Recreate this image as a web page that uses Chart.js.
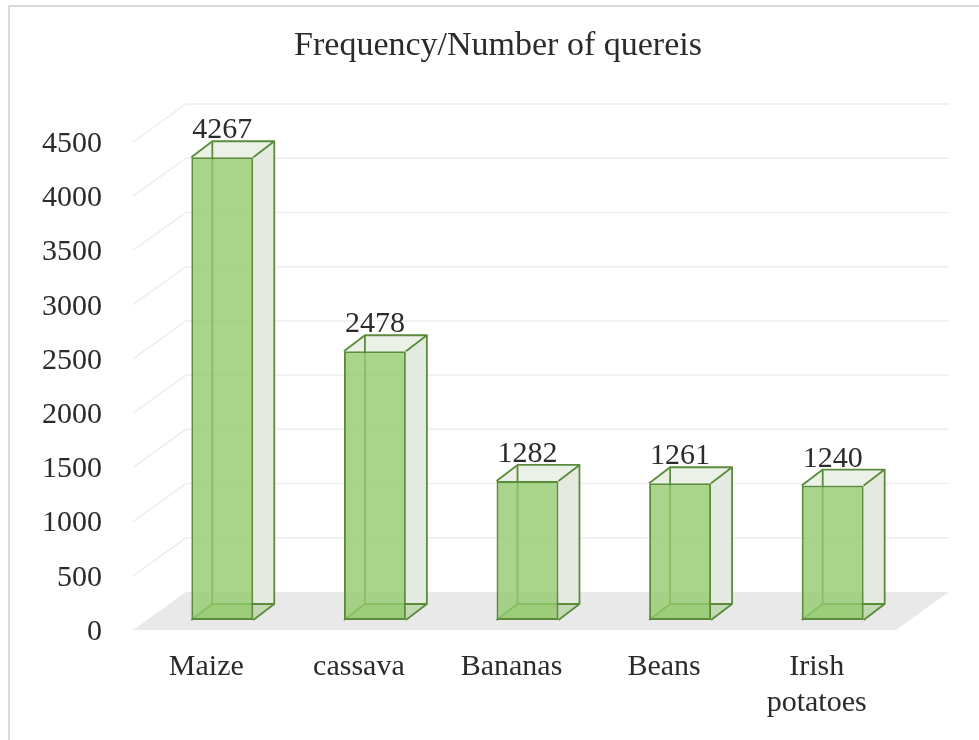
<!DOCTYPE html>
<html>
<head>
<meta charset="utf-8">
<script src="https://cdn.jsdelivr.net/npm/chart.js@4.4.0/dist/chart.umd.min.js"></script>
<style>
  html, body { margin: 0; padding: 0; background: #fff; }
  #frame { position: absolute; left: 8px; top: 5px; width: 1000px; height: 800px; border: 2px solid #dadada; }
  #wrap { position: absolute; left: 0; top: 0; width: 979px; height: 740px; }
</style>
</head>
<body>
<div id="frame"></div>
<div id="wrap"><canvas id="myChart" width="979" height="740"></canvas></div>
<script>
// data
const chartTitle = "Frequency/Number of quereis";
const categories = ["Maize", "cassava", "Bananas", "Beans", ["Irish", "potatoes"]];
const queries = [4267, 2478, 1282, 1261, 1240];
const yMin = 0;
const yMax = 4500;
const yStep = 500;

// 3d look
const DEPTH = { dx: 21, dy: -16 };
const FLOOR_FRONT = { dx: -13, dy: 10 };
const FLOOR_BACK = { dx: 40, dy: -28 };
const EDGE = "#5b8c3c";
const FONT = "'Liberation Serif', 'Times New Roman', serif";

const poly = (ctx, pts) => {
  ctx.beginPath();
  ctx.moveTo(pts[0][0], pts[0][1]);
  pts.slice(1).forEach(p => ctx.lineTo(p[0], p[1]));
  ctx.closePath();
};
const path = (ctx, pts) => {
  ctx.beginPath();
  ctx.moveTo(pts[0][0], pts[0][1]);
  pts.slice(1).forEach(p => ctx.lineTo(p[0], p[1]));
  ctx.stroke();
};

const box3d = {
  id: "box3d",
  beforeDatasetsDraw(chart) {
    const { ctx, chartArea: a, scales: { y } } = chart;
    const y0 = y.getPixelForValue(0);
    ctx.save();
    // floor
    ctx.fillStyle = "#e9e9e9";
    poly(ctx, [
      [a.left + FLOOR_FRONT.dx, y0 + FLOOR_FRONT.dy],
      [a.right + FLOOR_FRONT.dx, y0 + FLOOR_FRONT.dy],
      [a.right + FLOOR_BACK.dx, y0 + FLOOR_BACK.dy],
      [a.left + FLOOR_BACK.dx, y0 + FLOOR_BACK.dy]
    ]);
    ctx.fill();
    // side wall + back wall grid
    ctx.strokeStyle = "#ededed";
    ctx.lineWidth = 1.5;
    y.ticks.forEach(t => {
      if (t.value === 0) return;
      const py = y.getPixelForValue(t.value);
      path(ctx, [
        [a.left + FLOOR_FRONT.dx, py + FLOOR_FRONT.dy],
        [a.left + FLOOR_BACK.dx, py + FLOOR_BACK.dy],
        [a.right + FLOOR_BACK.dx, py + FLOOR_BACK.dy]
      ]);
    });
    // faces behind the front one
    const { dx, dy } = DEPTH;
    chart.getDatasetMeta(0).data.forEach(bar => {
      const l = bar.x - bar.width / 2, r = bar.x + bar.width / 2, t = bar.y, b = bar.base;
      ctx.fillStyle = "#e4eae0";
      poly(ctx, [[r, t], [r + dx, t + dy], [r + dx, b + dy], [r, b]]);
      ctx.fill();
      ctx.fillStyle = "#ecf1e8";
      poly(ctx, [[l, t], [l + dx, t + dy], [r + dx, t + dy], [r, t]]);
      ctx.fill();
      ctx.fillStyle = "rgba(120,180,80,0.3)";
      poly(ctx, [[l, b], [l + dx, b + dy], [r + dx, b + dy], [r, b]]);
      ctx.fill();
      ctx.strokeStyle = EDGE;
      ctx.lineWidth = 1.8;
      path(ctx, [[l, b], [l + dx, b + dy], [r + dx, b + dy]]);
      path(ctx, [[l + dx, b + dy], [l + dx, t + dy]]);
    });
    ctx.restore();
  },
  afterDatasetsDraw(chart) {
    const { ctx } = chart;
    const { dx, dy } = DEPTH;
    ctx.save();
    ctx.strokeStyle = EDGE;
    ctx.lineWidth = 1.8;
    ctx.lineJoin = "round";
    chart.getDatasetMeta(0).data.forEach((bar, i) => {
      const l = bar.x - bar.width / 2, r = bar.x + bar.width / 2, t = bar.y, b = bar.base;
      path(ctx, [[l, t], [l + dx, t + dy], [r + dx, t + dy], [r, t]]);
      path(ctx, [[r + dx, t + dy], [r + dx, b + dy], [r, b]]);
      // value label
      ctx.fillStyle = "#2b2b2b";
      ctx.font = "30px " + FONT;
      ctx.textAlign = "center";
      ctx.textBaseline = "alphabetic";
      ctx.fillText(String(queries[i]), bar.x, t - 19);
    });
    ctx.restore();
  },
  afterDraw(chart) {
    // title, centred on the framed box
    const { ctx } = chart;
    ctx.save();
    ctx.fillStyle = "#2b2b2b";
    ctx.font = "34px " + FONT;
    ctx.textAlign = "center";
    ctx.textBaseline = "alphabetic";
    ctx.fillText(chartTitle, 498, 55);
    ctx.restore();
  }
};

const stadistic = document.getElementById("myChart");
new Chart(stadistic, {
  type: "bar",
  data: {
    labels: categories,
    datasets: [{
      label: chartTitle,
      data: queries,
      backgroundColor: "rgba(146,203,108,0.8)",
      borderColor: EDGE,
      borderWidth: 2,
      borderSkipped: false,
      categoryPercentage: 1,
      barPercentage: 0.406
    }]
  },
  options: {
    responsive: false,
    animation: false,
    layout: { padding: { left: 0, right: 70, top: 132, bottom: 0 } },
    plugins: {
      legend: { display: false },
      tooltip: { enabled: false },
      title: { display: false }
    },
    scales: {
      x: {
        grid: { display: false, drawTicks: false },
        border: { display: false },
        afterFit: s => { s.height = 120; },
        ticks: {
          color: "#2b2b2b",
          padding: 29,
          labelOffset: -16,
          maxRotation: 0,
          autoSkip: false,
          font: { family: FONT, size: 30, lineHeight: 1.2 }
        }
      },
      y: {
        min: yMin,
        max: yMax,
        grid: { display: false, drawTicks: false },
        border: { display: false },
        afterFit: s => { s.width = 146; },
        ticks: {
          stepSize: yStep,
          color: "#2b2b2b",
          padding: 44,
          labelOffset: 12,
          font: { family: FONT, size: 30 },
          callback: v => String(v)
        }
      }
    }
  },
  plugins: [box3d]
});
</script>
</body>
</html>
